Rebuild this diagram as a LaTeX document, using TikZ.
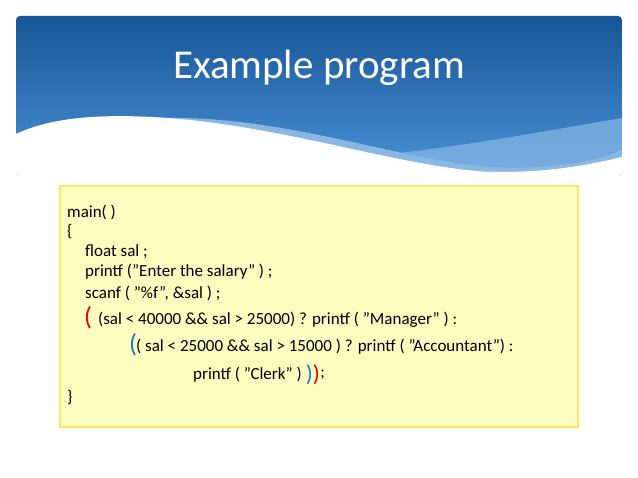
\documentclass[tikz,border=0pt]{standalone}
\usepackage{fontspec}
\setmainfont{Carlito}
\newcommand{\qq}{\symbol{34}}
\definecolor{topb}{HTML}{165596}
\definecolor{botb}{HTML}{4A92D6}
\begin{document}
\begin{tikzpicture}[x=1pt,y=-1pt,
  code/.style={anchor=west,inner sep=0pt,font=\fontsize{17}{20}\selectfont},
  red/.style={text=red!85!black},blu/.style={text=cyan!60!blue}]
\useasboundingbox (0,0) rectangle (638,478);
\fill[white] (0,0) rectangle (638,478);
\begin{scope}
\clip[rounded corners=4] (16,16) rectangle (622,176);
\shade[top color=topb, bottom color=botb] (16,16) rectangle (622,176);
\fill[white!45!botb,opacity=0.8] (160,118) .. controls (300,115) and (420,170) .. (520,168) .. controls (570,166) and (600,160) .. (622,150) -- (622,200) -- (160,200) -- cycle;
\fill[white!35!botb,opacity=0.7] (330,160) .. controls (450,150) and (550,130) .. (622,118) -- (622,200) -- (330,200) -- cycle;
\fill[white] (16,134) .. controls (50,118) and (100,112) .. (180,119) .. controls (300,130) and (420,172) .. (500,172) .. controls (560,172) and (600,162) .. (622,157) -- (622,200) -- (16,200) -- cycle;
\end{scope}
\node[text=white,font=\fontsize{41}{46}\selectfont] (title) at (319,68) {Example program};
\draw[yellow!80!orange!60,line width=1.2pt,fill=yellow!25] (60,186) rectangle (578,427);
\node[code] (l1) at (67,212) {main( )};
\node[code] (l2) at (67,232) {\{};
\node[code] (l3) at (85,252) {float sal ;};
\node[code] (l4) at (85,272) {printf (\qq Enter the salary\qq\ ) ;};
\node[code] (l5) at (85,293) {scanf ( \qq\%f\qq, \&sal ) ;};
\node[code,red,font=\fontsize{26}{28}\selectfont] (p1) at (84,318) {(};
\node[code] (l6) at (98,320) {(sal < 40000 \&\& sal > 25000) ? printf ( \qq Manager\qq\ ) :};
\node[code,blu,font=\fontsize{26}{28}\selectfont] (p2) at (129,345) {(};
\node[code] (l7) at (136,347) {( sal < 25000 \&\& sal > 15000 ) ? printf ( \qq Accountant\qq) :};
\node[code] (l8) at (193,375) {printf ( \qq Clerk\qq\ )};
\node[code,font=\fontsize{23}{26}\selectfont] (p3) at (l8.east) {\,\textcolor{cyan!60!blue}{)}\textcolor{red!85!black}{)}};
\node[code] (semi) at (p3.east) {;};
\node[code] (l9) at (67,398) {\}};
\end{tikzpicture}
\end{document}
